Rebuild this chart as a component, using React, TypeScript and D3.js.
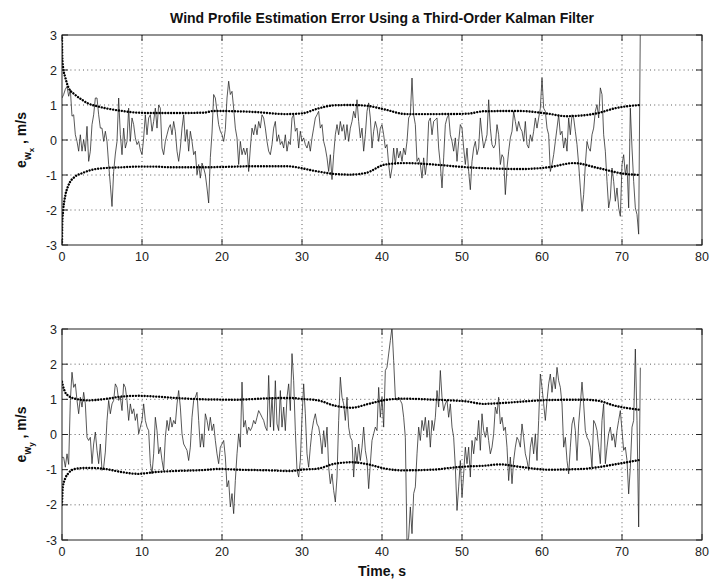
import React from "react";
import * as d3 from "d3";

const W = 712;
const H = 582;
const DT = 5 / 24;

const titleText = "Wind Profile Estimation Error Using a Third-Order Kalman Filter";
const xLabelText = "Time, s";
const xTicks = [0, 10, 20, 30, 40, 50, 60, 70, 80];
const yTicks = [-3, -2, -1, 0, 1, 2, 3];

// top panel signal (e_wx), sampled every DT seconds
const topSignal = [
  1.2, 1.3, 1.45, 1.53, 1.25, 1.44, 0.68, 0.72, 0.15, -0.04, -0.32, 0.15, -0.32, 0.01, -0.32, 0.39, -0.61, -0.32, 0.44, 0.72,
  1.2, 1.2, 0.72, 0.34, 0.34, -0.04, 0.25, -0.04, -0.7, -1.28, -1.9, -0.9, -0.4, -0.04, 1.2, 0.15, -0.42, 0.34, -0.23, -0.04,
  0.91, -0.04, 0.63, 0.44, 0.06, -0.13, -0.04, -0.28, -0.42, 0.06, 0.72, 0.15, 0.63, 0.72, 0.25, 0.53, 0.91, 0.34, 1.0, 0.91,
  -0.23, -0.42, -0.04, 0.15, 0.34, 0.44, 0.15, 0.53, 0.25,
  -0.32, -0.61, -0.23, 0.34, 0.72, -0.04, 0.3, -0.32, 0.25, -0.04, -0.42, -0.32, -0.99, -0.7, -1.09, -0.66, -0.8, -0.99, -1.37, -1.8,
  -0.5, 0.2, 1.3, 1.2, 0.82, 0.44, 0.25, 0.15, -0.04, 0.3, 1.2, 1.68, 1.3, 1.39, 0.91, 0.34, 0.06, -0.7, -0.04, -0.42,
  -0.23, -0.42, -0.23, -0.9, -0.23, 0.34, 0.15, 0.44, 0.15, 0.53, 0.34, 0.72, 0.63, 0.34, -0.04, -0.32, -0.42, -0.13, 0.34, 0.53,
  -0.04, 0.15, -0.13, -0.04, -0.23, 0.15, -0.32, -0.04, -0.13,
  0.63, 0.72, 0.25, 0.34, -0.23, 0.25, -0.04, 0.06, -0.13, -0.23, -0.04, -0.32, 0.06, 0.34, 0.63, 0.72, 0.82, 0.34, 0.44, -0.04,
  -0.23, -0.51, -0.9, -0.42, -1.13, -0.42, 0.15, 0.44, 0.15, 0.53, 0.25, 0.44, 0.01, 0.44, -0.04, 0.34, 0.53, 0.82, 0.63, 1.15,
  0.53, 0.06, 0.34, -0.32, 0.15, 0.82, 1.06, 0.63, -0.23, 0.25, 0.53, 0.34, -0.04, 0.34, 0.44, 0.15, -0.23, -0.13, -0.7, -1.09,
  -0.8, -0.23, -0.7, -0.23, -0.51, -0.32, -0.61, -0.23, -0.42,
  -0.04, 0.63, 0.72, 1.77, 0.72, 0.44, -0.61, -0.51, -0.7, -1.09, -0.51, -0.99, -0.61, 0.53, 0.63, 0.15, 0.53, 0.58, 0.63, -0.23,
  -0.7, -1.37, -0.51, 0.44, 0.63, 0.72, 0.15, -0.04, -0.32, 0.06, -0.61, -0.04, 0.44, 0.34, -0.23, -0.7, -0.23, -0.9, -1.42, -0.61,
  -0.23, -0.04, -0.42, -0.23, 0.63, 0.15, -0.23, -0.04, 0.15, 1.15, 0.34, -0.13, -0.23, -0.13, 0.44, 0.15, -0.7, -0.42, -0.51, -1.56,
  -0.8, -0.32, 0.06, 0.25, 0.82, 0.53, 0.25, 0.53, 0.34,
  0.25, -0.04, 0.53, -0.13, -0.23, 0.15, -0.04, 0.25, 0.63, 0.34, 0.63, 0.91, 1.77, 0.91, 0.82, 0.34, 0.15, -0.9, -0.7, -0.42,
  -0.04, 0.34, 0.72, 0.15, 0.25, -0.23, 0.06, -0.32, 0.63, 0.15, 0.72, 0.63, 0.25, -0.13, -0.7, -1.37, -2.04, -1.56, -0.7, -0.04,
  -0.23, -0.32, 0.15, 0.34, 0.82, 1.01, 0.63, 1.49, 1.3, 0.15, -0.32, -1.18, -1.94, -1.66, -0.8, -1.18, -1.75, -1.37, -1.94, -2.18,
  -0.7, -0.42, -0.99, -0.7, -1.94, 0.91, -0.23, -1.18, -1.94, -2.13, -2.69, 3.3,
];

// bottom panel signal (e_wy)
const bottomSignal = [
  -0.65, -0.65, -0.93, -0.55, -0.85, 0.97, 1.77, 1.34, 1.44, 0.97, 0.59, 1.06, 0.78, 1.2, 0.87, -0.08, -0.17, -0.08, -0.83, -0.27,
  0.07, -0.45, -0.83, -0.27, -1.02, -0.93, -0.5, 0.4, 0.97, 0.59, 0.87, 0.97, 1.44, 1.34, 0.97, 1.06, 0.68, 1.44, 1.34, 0.97,
  0.4, 0.87, 0.59, 0.73, 0.4, 0.59, 0.02, 0.21, 0.4, 0.87, 0.4, 0.21, 0.11, -0.83, -1.12, -0.55, 0.49, 0.11, -0.55, -0.36,
  -0.74, -1.02, -0.08, 0.4, 0.11, 0.49, 0.21, 0.4, 0.3,
  0.87, 1.25, 0.78, 0.02, -0.27, -0.36, -0.45, -0.74, -0.36, 0.49, 0.97, 1.06, 1.2, 0.4, -0.36, 0.02, -0.36, 0.59, 0.4, 0.11,
  0.49, 0.11, 0.3, -0.17, -0.55, -0.83, -0.36, -0.27, -0.17, -0.64, -1.49, -1.31, -2.06, -1.68, -2.25, -1.31, -0.55, 0.02, -0.36, 1.49,
  0.21, 0.4, 0.02, 0.21, 0.11, 0.21, 0.4, 0.3, 0.49, 0.68, 0.59, 0.49, 0.4, 0.21, 0.11, 1.68, 0.21, 1.06, 0.11, 1.53,
  0.3, 0.11, 1.25, 0.21, 0.78, 0.11, 1.06, 1.44, 0.68,
  2.3, 1.53, 0.11, -1.02, -1.21, -0.74, 0.49, 1.44, 0.59, -0.55, -0.93, -0.36, 0.11, 0.4, 0.59, 0.3, 0.21, -0.08, -0.55, 0.11,
  -0.36, 0.21, -0.93, -1.4, -1.12, -1.59, -1.92, -1.21, 0.4, 1.63, 1.06, 0.87, 0.4, 1.06, 0.21, -0.08, -0.17, -1.21, -0.36, -0.83,
  -0.27, -0.74, -0.36, 0.21, -0.45, -0.74, -1.54, -0.83, -0.17, 0.02, 0.21, 0.11, 1.34, 0.49, 1.06, 0.21, 1.82, 1.91, 2.29, 2.67,
  3.05, 2.1, 1.06, 0.97, 1.06, 0.97, 0.87, 0.49, -0.08,
  -3.1, -2.92, -2.06, -2.82, -1.68, -1.49, -0.55, 0.21, -0.17, 0.4, 0.11, 0.49, -0.08, 0.4, -0.36, 0.4, 0.11, 0.49, 1.25, 0.78,
  1.82, 1.06, 0.68, 0.87, 0.97, 0.49, 0.87, 0.21, -0.08, -0.93, -2.16, -1.49, -0.74, -1.78, -1.12, -0.36, -0.83, -0.36, -1.21, -0.17,
  -0.55, -0.08, -0.17, 0.4, -0.45, 0.59, 0.11, -0.08, 0.21, -0.17, -0.55, -0.36, 0.02, 0.78, 0.59, 1.06, 0.3, 0.49, 0.11, 0.21,
  -0.36, -1.31, -0.64, -1.4, -0.74, -0.36, -0.08, -0.17, -0.36,
  0.3, -0.08, -0.55, -0.74, -1.02, -0.36, -0.08, -0.55, 0.02, -0.74, 0.4, 1.72, 1.34, 0.87, 0.4, 0.97, 1.44, 1.72, 1.2, 1.63,
  1.3, 1.91, 1.53, 1.34, 0.87, -0.36, -0.08, -0.74, -1.12, -0.36, 0.3, 0.49, 0.11, -0.74, 0.3, 0.87, 1.49, 0.87, 0.11, -0.08,
  -0.17, -0.36, -0.93, 0.4, 0.3, 0.11, -0.36, -0.83, 0.4, 0.87, -0.83, -0.36, 0.02, 0.21, -0.17, 0.02, -0.36, 0.11, 0.4, 0.68,
  0.11, -0.45, -0.36, -0.74, -1.69, -0.93, 0.21, 0.4, 2.43, 0.4, -2.63, 1.9,
];

// error bounds (dotted)
const topUpperT = [0, 0.03, 0.15, 0.4, 0.8, 1.6, 2.5, 3.3, 4.3, 5.4, 7.5, 9.5, 11.6, 13.5, 17.7, 19, 24, 28, 30, 32, 34, 36, 38, 40.4, 43, 46.4, 50.6, 52.7, 57, 60.8, 63, 65, 67, 69, 72.3];
const topUpperV = [3, 2.4, 2.05, 1.8, 1.5, 1.3, 1.15, 1.04, 0.97, 0.91, 0.83, 0.78, 0.77, 0.77, 0.78, 0.83, 0.8, 0.74, 0.76, 0.9, 0.99, 1.0, 0.98, 0.87, 0.74, 0.74, 0.75, 0.82, 0.83, 0.75, 0.68, 0.7, 0.77, 0.9, 1.0];
const topLowerT = [0, 0.03, 0.15, 0.4, 0.8, 1.6, 2.5, 3.3, 5.4, 7.5, 9.5, 11.6, 13.5, 17.7, 20, 24, 28, 32, 34, 36, 38, 40.4, 42.9, 46.4, 50.6, 54.7, 57.2, 60.8, 64, 67, 70.4, 72.3];
const topLowerV = [-3, -2.4, -2.0, -1.6, -1.3, -1.05, -0.95, -0.88, -0.8, -0.78, -0.76, -0.76, -0.78, -0.78, -0.77, -0.75, -0.75, -0.9, -0.97, -0.99, -0.94, -0.7, -0.66, -0.7, -0.78, -0.82, -0.83, -0.78, -0.66, -0.8, -0.97, -1.0];
const botUpperT = [0, 0.1, 0.4, 0.8, 1.6, 3.3, 5.4, 7.5, 9.5, 11.6, 14.1, 17.7, 21.8, 26, 28.5, 30, 32, 34.1, 36.2, 38.3, 40.4, 42.5, 46.4, 48.5, 50.6, 52.7, 54.7, 57.2, 60.8, 65, 67, 69.1, 72.3];
const botUpperV = [1.5, 1.4, 1.2, 1.1, 1.02, 0.97, 1.01, 1.08, 1.1, 1.08, 1.04, 1.0, 0.99, 1.03, 1.04, 1.01, 0.97, 0.82, 0.76, 0.87, 0.98, 1.02, 0.99, 0.97, 0.94, 0.87, 0.89, 0.93, 0.98, 0.99, 0.96, 0.82, 0.7];
const botLowerT = [0, 0.1, 0.4, 0.8, 1.6, 3.3, 5.4, 7.5, 9.5, 11.6, 14.1, 17.7, 19.7, 21.8, 26, 28.5, 30, 32, 34.1, 36.2, 38.3, 40.4, 42.5, 46.4, 48.5, 50.6, 52.7, 54.7, 57.2, 60.8, 65, 67, 69.1, 72.3];
const botLowerV = [-2.0, -1.5, -1.25, -1.1, -0.98, -0.95, -0.98, -1.07, -1.12, -1.07, -1.04, -1.01, -0.98, -1.0, -1.02, -1.04, -1.0, -0.97, -0.83, -0.79, -0.85, -0.97, -1.02, -1.0, -0.95, -0.91, -0.89, -0.85, -0.92, -1.0, -0.98, -0.93, -0.85, -0.72];

const LEFT = 62;
const RIGHT = 702;
const FONT = "'Liberation Sans', Arial, Helvetica, sans-serif";

type PanelProps = {
  id: string;
  top: number;
  bottom: number;
  signal: number[];
  upT: number[];
  upV: number[];
  loT: number[];
  loV: number[];
  sub: string;
};

function Panel({ id, top, bottom, signal, upT, upV, loT, loV, sub }: PanelProps) {
  const x = d3.scaleLinear().domain([0, 80]).range([LEFT, RIGHT]);
  const y = d3.scaleLinear().domain([-3, 3]).range([bottom, top]);
  const sigLine = d3
    .line<number>()
    .x((_, i) => x(i * DT))
    .y((d) => y(d));
  const bLine = d3
    .line<[number, number]>()
    .x((d) => x(d[0]))
    .y((d) => y(d[1]))
    .curve(d3.curveMonotoneX);
  const up = upT.map((t, i) => [t, upV[i]] as [number, number]);
  const lo = loT.map((t, i) => [t, loV[i]] as [number, number]);
  const tick = 6;
  const midY = (top + bottom) / 2;
  return (
    <g>
      <defs>
        <clipPath id={id}>
          <rect x={LEFT} y={top} width={RIGHT - LEFT} height={bottom - top} />
        </clipPath>
      </defs>
      {xTicks.slice(1, -1).map((t) => (
        <line key={"gx" + t} x1={x(t)} x2={x(t)} y1={top} y2={bottom} stroke="#333" strokeWidth={0.8} strokeDasharray="1 3.2" />
      ))}
      {yTicks.slice(1, -1).map((t) => (
        <line key={"gy" + t} x1={LEFT} x2={RIGHT} y1={y(t)} y2={y(t)} stroke="#333" strokeWidth={0.8} strokeDasharray="1 3.2" />
      ))}
      <g clipPath={`url(#${id})`}>
        <path d={sigLine(signal) || ""} fill="none" stroke="#222" strokeWidth={0.75} strokeLinejoin="round" />
        <path d={bLine(up) || ""} fill="none" stroke="#000" strokeWidth={2.4} strokeDasharray="0.01 2.9" strokeLinecap="round" />
        <path d={bLine(lo) || ""} fill="none" stroke="#000" strokeWidth={2.4} strokeDasharray="0.01 2.9" strokeLinecap="round" />
      </g>
      <rect x={LEFT} y={top} width={RIGHT - LEFT} height={bottom - top} fill="none" stroke="#222" strokeWidth={1} />
      {xTicks.map((t) => (
        <g key={"tx" + t}>
          <line x1={x(t)} x2={x(t)} y1={bottom} y2={bottom - tick} stroke="#222" />
          <line x1={x(t)} x2={x(t)} y1={top} y2={top + tick} stroke="#222" />
          <text x={x(t)} y={bottom + 15.5} textAnchor="middle" fontSize={12.5} fontFamily={FONT} fill="#222">
            {t}
          </text>
        </g>
      ))}
      {yTicks.map((t) => (
        <g key={"ty" + t}>
          <line x1={LEFT} x2={LEFT + tick} y1={y(t)} y2={y(t)} stroke="#222" />
          <line x1={RIGHT} x2={RIGHT - tick} y1={y(t)} y2={y(t)} stroke="#222" />
          <text x={LEFT - 5} y={y(t) + 4.5} textAnchor="end" fontSize={12.5} fontFamily={FONT} fill="#222">
            {t}
          </text>
        </g>
      ))}
      <text
        transform={`translate(26,${midY}) rotate(-90)`}
        textAnchor="middle"
        fontSize={14}
        fontWeight="bold"
        fontFamily={FONT}
        fill="#111"
      >
        e
        <tspan dy={4.5} fontSize={10}>w</tspan>
        <tspan dy={3.5} fontSize={8}>{sub}</tspan>
        <tspan dy={-8}>{" ,  m/s"}</tspan>
      </text>
    </g>
  );
}

export default function App() {
  const x = d3.scaleLinear().domain([0, 80]).range([LEFT, RIGHT]);
  return (
    <svg
      width={W}
      height={H}
      viewBox={`0 0 ${W} ${H}`}
      style={{ position: "absolute", left: 0, top: 0, background: "#fff" }}
    >
      <rect x={0} y={0} width={W} height={H} fill="#fff" />
      <text x={x(40)} y={23} textAnchor="middle" fontSize={14} fontWeight="bold" fontFamily={FONT} fill="#111">
        {titleText}
      </text>
      <Panel id="clipTop" top={35} bottom={245} signal={topSignal} upT={topUpperT} upV={topUpperV} loT={topLowerT} loV={topLowerV} sub="x" />
      <Panel id="clipBot" top={329} bottom={540} signal={bottomSignal} upT={botUpperT} upV={botUpperV} loT={botLowerT} loV={botLowerV} sub="y" />
      <text x={x(40)} y={576} textAnchor="middle" fontSize={14} fontWeight="bold" fontFamily={FONT} fill="#111">
        {xLabelText}
      </text>
    </svg>
  );
}
